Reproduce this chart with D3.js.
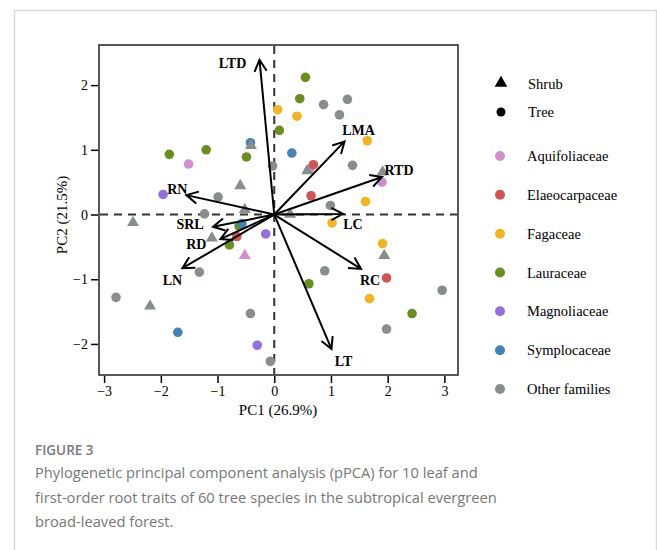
<!DOCTYPE html>
<html>
<head>
<meta charset="utf-8">
<script src="https://cdn.jsdelivr.net/npm/d3@7"></script>
<style>
  body { margin: 0; background: #fff; }
  svg { display: block; }
  .tick text { font-family: "Liberation Serif", "Times New Roman", serif; }
</style>
</head>
<body>
<script>
// legend categories
var families = ['Aquifoliaceae', 'Elaeocarpaceae', 'Fagaceae', 'Lauraceae',
                'Magnoliaceae', 'Symplocaceae', 'Other families'];
var familyColors = ['#cf8fcc', '#cf5454', '#f0b428', '#6b8e23',
                    '#9370db', '#4682b4', '#878e8d'];
var lifeForms = ['Shrub', 'Tree'];

// species scores (PC1, PC2), family index, life form
var spPC1 = [-1.51, 0.62, 1.90, -0.52,
             0.69, 0.65, 1.98, -0.66,
             0.06, 0.40, 1.64, 1.61, 1.02, 1.91, 1.68,
             -1.85, -1.20, -0.49, 0.55, 0.45, 0.09, 0.61, 2.43, -0.62, -0.79,
             -1.96, -0.15, -0.30,
             -0.42, 0.31, -0.57, -1.70,
             -0.99, -1.23, -0.03, 0.87, 1.29, 1.15, 1.38, 0.99, 0.89, 2.96, 1.98, -0.07, -1.32, -2.79, -0.42,
             -0.41, -0.60, -0.52, 0.58, 1.91, 0.28, -2.49, -1.10, -2.19, 1.94];
var spPC2 = [0.78, 0.70, 0.50, -0.65,
             0.77, 0.29, -0.98, -0.34,
             1.62, 1.52, 1.14, 0.20, -0.13, -0.45, -1.30,
             0.93, 1.00, 0.89, 2.12, 1.79, 1.30, -1.07, -1.53, -0.18, -0.47,
             0.31, -0.30, -2.02,
             1.11, 0.95, -0.14, -1.82,
             0.27, 0.01, 0.75, 1.70, 1.78, 1.54, 0.76, 0.14, -0.87, -1.17, -1.77, -2.27, -0.89, -1.28, -1.53,
             1.05, 0.43, 0.06, 0.66, 0.64, -0.01, -0.14, -0.38, -1.43, -0.65];
var spFamily = [0, 0, 0, 0,
                1, 1, 1, 1,
                2, 2, 2, 2, 2, 2, 2,
                3, 3, 3, 3, 3, 3, 3, 3, 3, 3,
                4, 4, 4,
                5, 5, 5, 5,
                6, 6, 6, 6, 6, 6, 6, 6, 6, 6, 6, 6, 6, 6, 6,
                6, 6, 6, 6, 6, 6, 6, 6, 6, 6];
var spForm = ['Tree', 'Tree', 'Tree', 'Shrub',
              'Tree', 'Tree', 'Tree', 'Tree',
              'Tree', 'Tree', 'Tree', 'Tree', 'Tree', 'Tree', 'Tree',
              'Tree', 'Tree', 'Tree', 'Tree', 'Tree', 'Tree', 'Tree', 'Tree', 'Tree', 'Tree',
              'Tree', 'Tree', 'Tree',
              'Tree', 'Tree', 'Tree', 'Tree',
              'Tree', 'Tree', 'Tree', 'Tree', 'Tree', 'Tree', 'Tree', 'Tree', 'Tree', 'Tree', 'Tree', 'Tree', 'Tree', 'Tree', 'Tree',
              'Shrub', 'Shrub', 'Shrub', 'Shrub', 'Shrub', 'Shrub', 'Shrub', 'Shrub', 'Shrub', 'Shrub'];

// trait loadings (scaled to plot)
var traits   = ['LTD', 'LMA', 'RTD', 'LC', 'RC', 'LT', 'RN', 'SRL', 'RD', 'LN'];
var traitPC1 = [-0.26, 1.24, 1.90, 1.21, 1.53, 1.01, -1.55, -1.08, -0.95, -1.62];
var traitPC2 = [2.39, 1.13, 0.58, 0.01, -0.84, -2.08, 0.30, -0.19, -0.38, -0.83];

var xTicks = [-3, -2, -1, 0, 1, 2, 3];
var yTicks = [-2, -1, 0, 1, 2];

// label offsets from arrow tips (px)
var labelOff = {
  LTD: [-27, 3], LMA: [14, -11], RTD: [17, -7], LC: [10, 10], RC: [9, 11],
  LT: [12, 12], RN: [-9, -6], SRL: [-23, -3], RD: [-24, 5], LN: [-10, 12]
};

var width = 657, height = 550;
var svg = d3.select('body').append('svg')
  .attr('width', width)
  .attr('height', height);

// card frame
svg.append('rect')
  .attr('x', 14.5).attr('y', 10.5)
  .attr('width', 642).attr('height', 560)
  .attr('fill', 'none')
  .attr('stroke', '#d9d9d9')
  .attr('stroke-width', 1.5);

var x = d3.scaleLinear().domain([-3.09, 3.24]).range([99, 458]);
var y = d3.scaleLinear().domain([-2.48, 2.62]).range([375, 45]);
var serif = '"Liberation Serif", "Times New Roman", serif';

// axes
var xAxis = svg.append('g')
  .attr('transform', 'translate(0,376)')
  .call(d3.axisBottom(x).tickValues(xTicks).tickSize(7).tickPadding(3)
    .tickFormat(function(d) { return d < 0 ? '\u2212' + Math.abs(d) : d; }));
var yAxis = svg.append('g')
  .attr('transform', 'translate(98,0)')
  .call(d3.axisLeft(y).tickValues(yTicks).tickSize(7).tickPadding(3)
    .tickFormat(function(d) { return d < 0 ? '\u2212' + Math.abs(d) : d; }));
[xAxis, yAxis].forEach(function(a) {
  a.select('.domain').remove();
  a.selectAll('line').attr('stroke', '#000').attr('stroke-width', 1.5);
  a.selectAll('text').attr('font-size', 14).attr('fill', '#000');
});

svg.append('text')
  .attr('x', 278).attr('y', 415)
  .attr('text-anchor', 'middle')
  .attr('font-family', serif).attr('font-size', 15)
  .text('PC1 (26.9%)');
svg.append('text')
  .attr('transform', 'translate(67,215) rotate(-90)')
  .attr('text-anchor', 'middle')
  .attr('font-family', serif).attr('font-size', 15)
  .text('PC2 (21.5%)');

// zero lines
var plot = svg.append('g');
plot.append('line')
  .attr('x1', x(0)).attr('x2', x(0))
  .attr('y1', 46).attr('y2', 374)
  .attr('stroke', '#333').attr('stroke-width', 2)
  .attr('stroke-dasharray', '8,6');
plot.append('line')
  .attr('x1', 100).attr('x2', 457)
  .attr('y1', y(0)).attr('y2', y(0))
  .attr('stroke', '#333').attr('stroke-width', 2)
  .attr('stroke-dasharray', '8,6');

// species points
var species = spPC1.map(function(v, i) {
  return { pc1: v, pc2: spPC2[i], fam: spFamily[i], form: spForm[i] };
});
var tri = d3.symbol().type(d3.symbolTriangle).size(62);
plot.selectAll('circle.sp')
  .data(species.filter(function(d) { return d.form == 'Tree'; }))
  .enter().append('circle')
    .attr('class', 'sp')
    .attr('cx', function(d) { return x(d.pc1); })
    .attr('cy', function(d) { return y(d.pc2); })
    .attr('r', 4.8)
    .attr('fill', function(d) { return familyColors[d.fam]; });
plot.selectAll('path.sp')
  .data(species.filter(function(d) { return d.form == 'Shrub'; }))
  .enter().append('path')
    .attr('class', 'sp')
    .attr('d', tri)
    .attr('transform', function(d) { return 'translate(' + x(d.pc1) + ',' + (y(d.pc2) - 1) + ')'; })
    .attr('fill', function(d) { return familyColors[d.fam]; });

// trait arrows
var arrows = traits.map(function(t, i) {
  return { name: t, pc1: traitPC1[i], pc2: traitPC2[i] };
});
var ox = x(0), oy = y(0);
var ag = plot.selectAll('g.arrow')
  .data(arrows)
  .enter().append('g')
    .attr('class', 'arrow');
ag.append('path')
  .attr('d', function(d) {
    var tx = x(d.pc1), ty = y(d.pc2);
    var ang = Math.atan2(ty - oy, tx - ox);
    var L = 13, h = 28 * Math.PI / 180;
    var a1 = [tx - L * Math.cos(ang - h), ty - L * Math.sin(ang - h)];
    var a2 = [tx - L * Math.cos(ang + h), ty - L * Math.sin(ang + h)];
    return 'M' + ox + ',' + oy + 'L' + tx + ',' + ty +
           'M' + a1 + 'L' + tx + ',' + ty + 'L' + a2;
  })
  .attr('fill', 'none')
  .attr('stroke', '#000')
  .attr('stroke-width', 2)
  .attr('stroke-linejoin', 'miter');
ag.append('text')
  .attr('x', function(d) { return x(d.pc1) + labelOff[d.name][0]; })
  .attr('y', function(d) { return y(d.pc2) + labelOff[d.name][1] + 5; })
  .attr('text-anchor', 'middle')
  .attr('font-family', serif)
  .attr('font-weight', 'bold')
  .attr('font-size', 14)
  .text(function(d) { return d.name; });

// panel box
svg.append('rect')
  .attr('x', 99).attr('y', 45)
  .attr('width', 359).attr('height', 330)
  .attr('fill', 'none')
  .attr('stroke', '#222')
  .attr('stroke-width', 1.5);

// legend
var lg = svg.append('g');
lg.append('path')
  .attr('d', d3.symbol().type(d3.symbolTriangle).size(70))
  .attr('transform', 'translate(501,83)')
  .attr('fill', '#000');
lg.append('circle')
  .attr('cx', 501).attr('cy', 112).attr('r', 4.5)
  .attr('fill', '#000');
lg.selectAll('text.form')
  .data(lifeForms)
  .enter().append('text')
    .attr('class', 'form')
    .attr('x', 528)
    .attr('y', function(d, i) { return 89 + i * 28; })
    .attr('font-family', serif).attr('font-size', 14.5)
    .text(function(d) { return d; });
var fy = d3.scalePoint().domain(families).range([156, 389]);
lg.selectAll('circle.fam')
  .data(families)
  .enter().append('circle')
    .attr('class', 'fam')
    .attr('cx', 500)
    .attr('cy', function(d) { return fy(d); })
    .attr('r', 5)
    .attr('fill', function(d, i) { return familyColors[i]; });
lg.selectAll('text.fam')
  .data(families)
  .enter().append('text')
    .attr('class', 'fam')
    .attr('x', 527)
    .attr('y', function(d) { return fy(d) + 5; })
    .attr('font-family', serif).attr('font-size', 14.5)
    .text(function(d) { return d; });

// caption
var sans = '"Open Sans", "Noto Sans", sans-serif';
svg.append('text')
  .attr('x', 35).attr('y', 455)
  .attr('font-family', sans).attr('font-size', 13.5)
  .attr('font-weight', 600)
  .attr('fill', '#7a7a7a')
  .text('FIGURE 3');
var caption = [
  'Phylogenetic principal component analysis (pPCA) for 10 leaf and',
  'first-order root traits of 60 tree species in the subtropical evergreen',
  'broad-leaved forest.'
];
svg.selectAll('text.cap')
  .data(caption)
  .enter().append('text')
    .attr('class', 'cap')
    .attr('x', 35)
    .attr('y', function(d, i) { return 478 + i * 24.5; })
    .attr('font-family', sans).attr('font-size', 14.7)
    .attr('fill', '#777')
    .text(function(d) { return d; });
</script>
</body>
</html>
